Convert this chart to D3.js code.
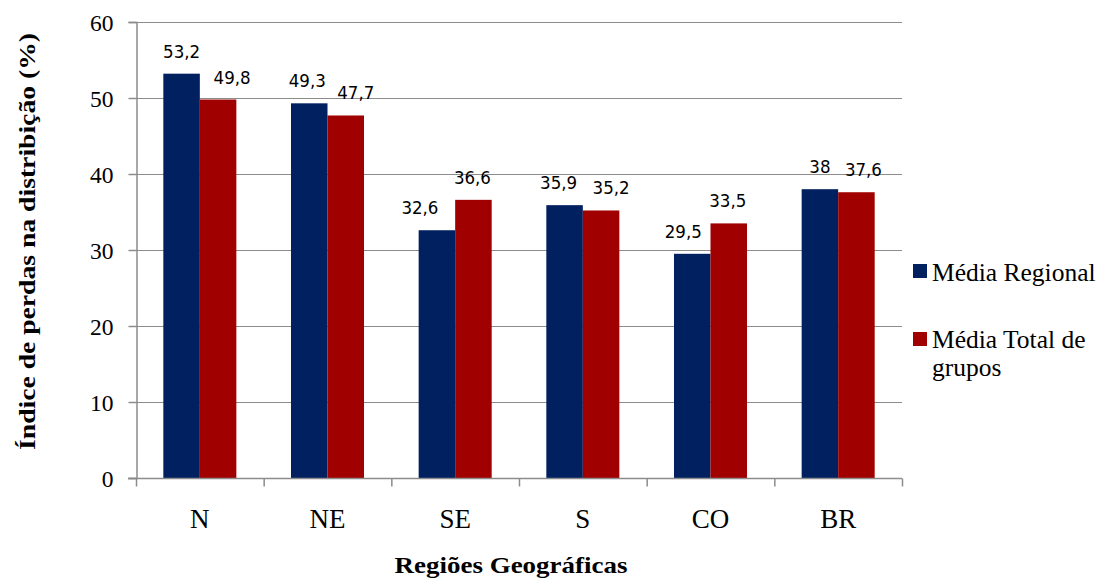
<!DOCTYPE html>
<html>
<head>
<meta charset="utf-8">
<script src="https://cdn.jsdelivr.net/npm/d3@7"></script>
<style>
  html, body { margin: 0; padding: 0; background: #fff; }
  svg { display: block; }
</style>
</head>
<body>
<svg id="chart" width="1106" height="579"></svg>
<script>
// Regions and the two loss-index series (%)
const regions = ["N", "NE", "SE", "S", "CO", "BR"];
const seriesNames = ["Média Regional", "Média Total de grupos"];
const mediaRegional = [53.2, 49.3, 32.6, 35.9, 29.5, 38];
const mediaTotalGrupos = [49.8, 47.7, 36.6, 35.2, 33.5, 37.6];
const yTicks = [0, 10, 20, 30, 40, 50, 60];

// Horizontal nudges (px) for value labels so neighbouring labels do not collide
const labelShiftRegional = [0, -2, -17, -6, -9, 0];
const labelShiftTotal = [14, 10, -1, 10, -1, 7];

const colors = ["#002060", "#A00000"];
const gridColor = "#8c8c8c";

const svg = d3.select("#chart");
const plot = { left: 136, right: 902, top: 22, bottom: 478 };

const x = d3.scaleBand()
  .domain(regions)
  .range([plot.left, plot.right])
  .paddingInner(0.428)
  .paddingOuter(0.214);

const xSeries = d3.scaleBand()
  .domain([0, 1])
  .range([0, x.bandwidth()]);

const y = d3.scaleLinear()
  .domain([0, 60])
  .range([plot.bottom, plot.top]);

// Gridlines
svg.append("g")
  .selectAll("line")
  .data(yTicks.filter(t => t > 0))
  .join("line")
  .attr("x1", plot.left)
  .attr("x2", plot.right)
  .attr("y1", d => y(d) + 0.5)
  .attr("y2", d => y(d) + 0.5)
  .attr("stroke", gridColor)
  .attr("stroke-width", 1);

// Bars
const data = regions.map((r, i) => ({
  region: r,
  values: [mediaRegional[i], mediaTotalGrupos[i]],
  shifts: [labelShiftRegional[i], labelShiftTotal[i]]
}));

const groups = svg.append("g")
  .selectAll("g")
  .data(data)
  .join("g")
  .attr("transform", d => `translate(${x(d.region)},0)`);

groups.selectAll("rect")
  .data(d => d.values.map((v, k) => ({ v, k })))
  .join("rect")
  .attr("x", d => xSeries(d.k))
  .attr("width", xSeries.bandwidth())
  .attr("y", d => y(d.v))
  .attr("height", d => y(0) - y(d.v))
  .attr("fill", d => colors[d.k]);

// Value labels
const fmt = v => String(v).replace(".", ",");
groups.selectAll("text")
  .data(d => d.values.map((v, k) => ({ v, k, s: d.shifts[k] })))
  .join("text")
  .attr("x", d => xSeries(d.k) + xSeries.bandwidth() / 2 + d.s)
  .attr("y", d => y(d.v) - 16)
  .attr("text-anchor", "middle")
  .attr("font-family", "'DejaVu Sans Condensed', 'Liberation Sans', sans-serif")
  .attr("font-size", 18.5)
  .attr("fill", "#000")
  .text(d => fmt(d.v));

// Y axis
const yAxis = d3.axisLeft(y)
  .tickValues(yTicks)
  .tickSize(8)
  .tickPadding(15)
  .tickFormat(d3.format("d"));

const yG = svg.append("g")
  .attr("transform", `translate(${plot.left + 0.5},0)`)
  .call(yAxis);
yG.select(".domain").attr("stroke", gridColor).attr("stroke-width", 1.5);
yG.selectAll(".tick line").attr("stroke", gridColor).attr("stroke-width", 1.5);
yG.selectAll(".tick text")
  .attr("font-family", "'Liberation Serif', 'Times New Roman', serif")
  .attr("font-size", 23.5)
  .attr("fill", "#000")
  .attr("dy", "0.35em");

// X axis: ticks sit on the category boundaries
const xG = svg.append("g")
  .attr("transform", `translate(0,${plot.bottom + 0.5})`);
xG.append("line")
  .attr("x1", plot.left - 8)
  .attr("x2", plot.right)
  .attr("stroke", gridColor)
  .attr("stroke-width", 1.5);
const step = x.step();
xG.selectAll("line.tick")
  .data(d3.range(regions.length + 1))
  .join("line")
  .attr("class", "tick")
  .attr("x1", i => x(regions[0]) - x.paddingOuter() * step + i * step + 0.5)
  .attr("x2", i => x(regions[0]) - x.paddingOuter() * step + i * step + 0.5)
  .attr("y1", 0)
  .attr("y2", 8)
  .attr("stroke", gridColor)
  .attr("stroke-width", 1.5);
xG.selectAll("text")
  .data(regions)
  .join("text")
  .attr("x", d => x(d) + x.bandwidth() / 2)
  .attr("y", 49)
  .attr("text-anchor", "middle")
  .attr("font-family", "'Liberation Serif', 'Times New Roman', serif")
  .attr("font-size", 27)
  .attr("fill", "#000")
  .text(d => d);

// Axis titles
svg.append("text")
  .attr("x", 511)
  .attr("y", 573)
  .attr("text-anchor", "middle")
  .attr("font-family", "'Liberation Serif', 'Times New Roman', serif")
  .attr("font-weight", "bold")
  .attr("font-size", 23)
  .attr("textLength", 233)
  .attr("lengthAdjust", "spacingAndGlyphs")
  .text("Regiões Geográficas");

svg.append("text")
  .attr("transform", "translate(35,241.5) rotate(-90)")
  .attr("text-anchor", "middle")
  .attr("font-family", "'Liberation Serif', 'Times New Roman', serif")
  .attr("font-weight", "bold")
  .attr("font-size", 24)
  .attr("textLength", 417)
  .attr("lengthAdjust", "spacingAndGlyphs")
  .text("Índice de perdas na distribição (%)");

// Legend: second entry wraps onto two lines
const legendLines = [["Média Regional"], ["Média Total de", "grupos"]];
const legendTop = [264, 332];
const legendBase = [281, 348];
const legend = svg.append("g").attr("transform", "translate(913,0)");
seriesNames.forEach((name, k) => {
  legend.append("rect")
    .attr("x", 0)
    .attr("y", legendTop[k])
    .attr("width", 14)
    .attr("height", 14)
    .attr("fill", colors[k]);
  const t = legend.append("text")
    .attr("font-family", "'Liberation Serif', 'Times New Roman', serif")
    .attr("font-size", 25.5)
    .attr("fill", "#000");
  legendLines[k].forEach((ln, j) => {
    t.append("tspan")
      .attr("x", 19)
      .attr("y", legendBase[k] + j * 28)
      .text(ln);
  });
});
</script>
</body>
</html>
